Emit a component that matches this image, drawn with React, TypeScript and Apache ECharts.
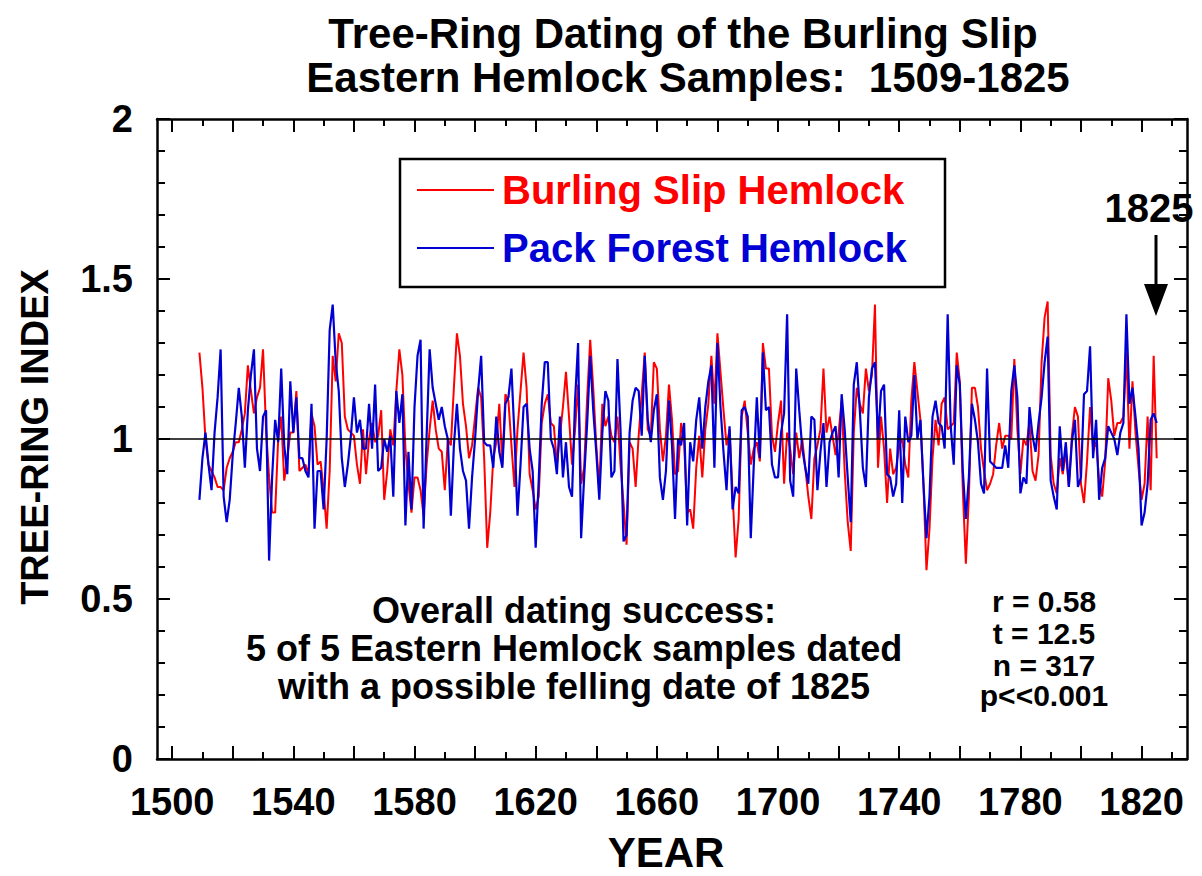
import React, { useEffect, useRef } from "react";
import * as echarts from "echarts";

const startYear = 1509;

const burlingSlip = [
  1.27,1.16,1.00,0.92,0.90,0.88,0.85,0.85,0.84,0.91,
  0.94,0.96,0.99,0.99,1.03,1.08,1.23,1.15,1.08,1.13,
  1.16,1.28,1.03,0.88,0.77,0.77,1.00,1.07,0.87,0.94,
  1.02,1.02,1.15,0.90,0.91,0.92,0.89,1.08,1.04,0.92,
  0.93,0.84,0.72,0.90,1.26,1.18,1.33,1.30,1.07,1.03,
  1.02,1.01,0.92,0.86,1.03,0.89,1.00,1.05,0.99,1.01,
  1.09,0.81,0.90,1.03,0.98,1.15,1.28,1.20,0.97,0.86,
  0.77,0.88,0.88,0.84,0.76,0.92,1.03,1.12,1.03,0.97,
  0.96,0.84,1.00,0.98,1.16,1.33,1.26,1.11,1.04,0.94,
  0.98,1.07,1.16,1.13,0.94,0.66,0.77,0.94,0.99,1.11,
  0.92,1.14,1.12,0.98,0.85,1.03,1.15,1.27,1.16,0.89,
  0.84,0.78,0.82,1.05,1.11,1.14,1.05,1.04,0.92,1.01,
  1.10,1.21,1.07,0.92,1.03,1.17,0.86,0.91,1.13,1.31,
  1.16,0.98,0.84,1.11,1.04,1.07,1.01,0.99,1.07,0.92,
  0.80,0.67,0.99,0.97,0.85,1.01,1.14,1.27,1.03,1.01,
  1.24,1.22,1.03,0.93,1.01,1.17,1.06,0.89,0.90,1.05,
  0.99,0.77,0.78,0.72,0.91,1.01,0.88,1.03,1.11,1.26,
  1.11,1.33,1.21,1.09,0.98,1.03,0.83,0.63,0.75,1.07,
  1.12,1.02,0.92,0.97,0.99,0.93,1.30,1.22,1.22,1.01,
  0.96,1.05,1.12,0.86,1.02,0.97,0.89,1.02,0.94,1.00,
  0.91,0.82,0.75,0.94,0.98,1.03,1.22,1.02,1.07,1.01,
  0.95,1.02,1.12,0.90,0.74,0.65,1.02,1.16,1.11,1.08,
  1.22,1.15,1.20,1.42,0.91,1.07,0.97,0.80,0.97,0.89,
  0.91,0.98,1.00,0.92,0.88,1.12,1.24,1.15,1.06,0.86,
  0.59,0.72,0.94,1.06,0.98,1.11,1.13,1.03,1.04,1.05,
  1.27,1.18,0.84,0.61,0.82,1.16,1.16,1.10,0.97,0.90,
  0.84,0.86,0.89,0.98,1.05,0.97,1.01,1.01,1.00,1.25,
  1.03,0.89,1.00,0.98,1.05,0.90,0.87,0.95,1.24,1.38,
  1.43,0.95,0.86,0.83,0.94,0.89,0.96,0.85,1.01,1.10,
  1.07,0.86,0.80,0.93,1.10,0.97,0.99,0.87,0.82,0.93,
  1.19,1.12,1.01,1.05,1.05,1.07,1.27,0.97,1.18,1.02,
  0.91,0.81,0.86,1.07,0.84,1.26,0.94,
];

const packForest = [
  0.81,0.94,1.02,0.92,0.84,1.02,1.13,1.28,0.82,0.74,
  0.81,0.95,1.05,1.16,1.07,0.91,1.09,1.20,1.28,0.97,
  0.90,1.07,1.09,0.62,0.88,1.06,0.99,1.22,0.98,0.89,
  1.18,1.02,1.13,0.94,0.94,0.90,0.88,1.11,0.72,0.90,
  0.90,0.78,1.00,1.34,1.42,1.24,1.15,0.94,0.85,0.92,
  1.01,1.13,1.02,1.06,0.97,0.97,1.11,0.97,1.17,0.90,
  0.91,1.00,0.96,1.01,0.82,1.15,1.05,1.14,0.73,0.96,
  0.78,1.10,1.26,1.31,0.72,1.01,1.28,1.16,1.11,1.06,
  1.10,1.04,1.00,0.76,0.98,1.11,0.97,0.90,0.87,0.72,
  0.88,1.00,1.15,1.26,0.99,0.98,0.98,0.91,1.07,0.96,
  0.91,1.11,1.13,1.22,1.01,0.76,0.92,1.10,1.11,0.97,
  0.90,0.66,0.87,1.11,1.24,1.24,1.00,0.97,0.89,1.07,
  0.88,0.99,0.85,0.82,1.12,1.30,0.69,0.88,1.05,1.26,
  1.09,0.96,0.81,1.02,1.15,1.12,0.88,0.90,1.25,1.03,
  0.68,0.70,1.02,1.12,1.16,1.15,1.01,1.26,1.06,0.99,
  1.09,1.14,0.88,0.81,0.90,1.12,0.98,0.75,1.00,0.98,
  1.05,0.73,0.99,0.93,1.06,1.13,0.97,1.10,1.18,1.23,
  0.91,1.30,1.10,0.96,0.84,1.04,0.78,0.85,0.83,1.09,
  1.10,1.07,0.69,0.92,1.13,0.94,1.27,1.09,1.10,0.92,
  0.88,0.88,1.02,1.08,1.39,0.87,0.82,1.22,1.09,0.97,
  0.91,0.86,1.07,1.06,0.84,0.96,1.05,0.85,0.99,1.02,
  1.04,0.88,1.14,1.03,0.88,0.74,1.17,1.24,1.09,0.91,
  0.85,1.13,1.22,1.24,1.00,1.15,1.17,0.89,0.88,0.82,
  0.86,1.09,0.80,1.07,0.99,1.01,1.20,1.00,1.06,0.86,
  0.69,0.82,1.07,1.12,1.05,1.04,0.97,1.39,1.04,0.92,
  1.23,1.17,0.90,0.75,0.88,1.11,1.06,0.99,0.86,0.83,
  1.22,0.93,0.92,0.91,0.91,0.91,0.98,0.91,1.15,1.23,
  1.13,0.83,0.88,0.86,1.10,1.01,0.96,1.05,1.13,1.24,
  1.32,0.87,0.82,0.78,1.04,0.90,0.99,0.85,0.99,1.06,
  0.85,0.88,1.14,1.15,1.29,0.94,1.06,0.81,0.91,0.94,
  1.04,1.02,1.00,0.95,1.02,1.05,1.39,1.11,1.16,1.07,
  0.97,0.73,0.77,0.86,1.06,1.08,1.05,
];

const xLabelValues = [1500, 1540, 1580, 1620, 1660, 1700, 1740, 1780, 1820];
const xMajorTicks = [1500, 1520, 1540, 1560, 1580, 1600, 1620, 1640, 1660, 1680, 1700, 1720, 1740, 1760, 1780, 1800, 1820];
const xMinorTicks = [1510, 1530, 1550, 1570, 1590, 1610, 1630, 1650, 1670, 1690, 1710, 1730, 1750, 1770, 1790, 1810, 1830];

const titleLines = ["Tree-Ring Dating of the Burling Slip", "Eastern Hemlock Samples:\u00a0 1509-1825"];
const noteLines = ["Overall dating success:", "5 of 5 Eastern Hemlock samples dated", "with a possible felling date of 1825"];
const statLines = ["r = 0.58", "t = 12.5", "n = 317", "p<<0.001"];
const seriesNames = ["Burling Slip Hemlock", "Pack Forest Hemlock"];

const FONT = '"Liberation Sans", Arial, Helvetica, sans-serif';
const RED = "#ff0000";
const BLUE = "#0000d4";

export default function App() {
  const ref = useRef<HTMLDivElement>(null);

  useEffect(() => {
    if (!ref.current) return;
    const chart = echarts.init(ref.current, null, { renderer: "svg" });

    const xCommon = { type: "value", min: 1495, max: 1835, splitLine: { show: false } };
    const tickLine = { color: "#000", width: 2 };

    const txt = (text: string, x: number, y: number, size: number, color = "#000", align = "center", extra: any = {}) => ({
      type: "text",
      x,
      y,
      ...extra,
      style: { text, fill: color, fontSize: size, fontWeight: "bold", fontFamily: FONT, align, verticalAlign: "middle" },
      z: 100,
    });

    const option: any = {
      animation: false,
      backgroundColor: "#fff",
      grid: { left: 157, top: 119, width: 1030, height: 640 },
      xAxis: [
        {
          ...xCommon,
          position: "bottom",
          axisLine: { show: true, onZero: false, lineStyle: { color: "#000", width: 2.5 } },
          axisTick: { show: true, inside: true, length: 13, lineStyle: tickLine, customValues: xMajorTicks },
          axisLabel: {
            show: true,
            customValues: xLabelValues,
            fontSize: 38,
            fontWeight: "bold",
            fontFamily: FONT,
            color: "#000",
            margin: 24,
            formatter: (v: number) => String(v),
          },
        },
        {
          ...xCommon,
          position: "bottom",
          axisLine: { show: false, onZero: false },
          axisTick: { show: true, inside: true, length: 7, lineStyle: tickLine, customValues: xMinorTicks },
          axisLabel: { show: false },
        },
        {
          ...xCommon,
          position: "top",
          axisLine: { show: true, onZero: false, lineStyle: { color: "#000", width: 2.5 } },
          axisTick: { show: true, inside: true, length: 13, lineStyle: tickLine, customValues: xMajorTicks },
          axisLabel: { show: false },
        },
        {
          ...xCommon,
          position: "top",
          axisLine: { show: false, onZero: false },
          axisTick: { show: true, inside: true, length: 7, lineStyle: tickLine, customValues: xMinorTicks },
          axisLabel: { show: false },
        },
      ],
      yAxis: [
        {
          type: "value",
          position: "left",
          min: 0,
          max: 2,
          interval: 0.5,
          splitLine: { show: false },
          axisLine: { show: true, onZero: false, lineStyle: { color: "#000", width: 2.5 } },
          axisTick: { show: true, inside: true, length: 13, lineStyle: tickLine },
          minorTick: { show: true, splitNumber: 5, length: 8, lineStyle: tickLine },
          axisLabel: { fontSize: 38, fontWeight: "bold", fontFamily: FONT, color: "#000", margin: 24, formatter: (v: number) => String(v) },
        },
        {
          type: "value",
          position: "right",
          min: 0,
          max: 2,
          interval: 0.5,
          splitLine: { show: false },
          axisLine: { show: true, onZero: false, lineStyle: { color: "#000", width: 2.5 } },
          axisTick: { show: true, inside: true, length: 13, lineStyle: tickLine },
          minorTick: { show: true, splitNumber: 5, length: 8, lineStyle: tickLine },
          axisLabel: { show: false },
        },
      ],
      series: [
        {
          name: seriesNames[0],
          type: "line",
          xAxisIndex: 0,
          yAxisIndex: 0,
          showSymbol: false,
          symbol: "none",
          lineStyle: { color: RED, width: 2 },
          data: burlingSlip.map((v, i) => [startYear + i, v]),
          z: 2,
        },
        {
          name: seriesNames[1],
          type: "line",
          xAxisIndex: 0,
          yAxisIndex: 0,
          showSymbol: false,
          symbol: "none",
          lineStyle: { color: BLUE, width: 2.2 },
          data: packForest.map((v, i) => [startYear + i, v]),
          z: 3,
          markLine: {
            silent: true,
            symbol: "none",
            label: { show: false },
            lineStyle: { color: "#000", width: 1.5, type: "solid" },
            data: [{ yAxis: 1 }],
          },
        },
      ],
      graphic: [
        txt(titleLines[0], 683, 33, 42),
        txt(titleLines[1], 688, 77, 42),
        txt("YEAR", 666, 852, 42),
        txt("TREE-RING INDEX", 35, 437, 38, "#000", "center", { rotation: Math.PI / 2 }),
        {
          type: "rect",
          shape: { x: 400, y: 159, width: 545, height: 128 },
          style: { fill: "#fff", stroke: "#000", lineWidth: 2.5 },
          z: 90,
        },
        { type: "line", shape: { x1: 417, y1: 190, x2: 494, y2: 190 }, style: { stroke: RED, lineWidth: 2 }, z: 100 },
        txt(seriesNames[0], 502, 190, 40, RED, "left"),
        { type: "line", shape: { x1: 417, y1: 248, x2: 494, y2: 248 }, style: { stroke: BLUE, lineWidth: 2 }, z: 100 },
        txt(seriesNames[1], 502, 248, 40, BLUE, "left"),
        txt("1825", 1149, 208, 40),
        { type: "line", shape: { x1: 1156, y1: 235, x2: 1156, y2: 292 }, style: { stroke: "#000", lineWidth: 3 }, z: 100 },
        {
          type: "polygon",
          shape: { points: [[1144, 284], [1168, 284], [1156, 316]] },
          style: { fill: "#000" },
          z: 100,
        },
        txt(noteLines[0], 574, 610, 36),
        txt(noteLines[1], 574, 648, 36),
        txt(noteLines[2], 574, 686, 36),
        txt(statLines[0], 1044, 601, 30),
        txt(statLines[1], 1044, 633, 30),
        txt(statLines[2], 1044, 665, 30),
        txt(statLines[3], 1044, 695, 30),
      ],
    };

    chart.setOption(option);
    return () => chart.dispose();
  }, []);

  return (
    <div
      ref={ref}
      style={{ position: "fixed", left: 0, top: 0, width: 1202, height: 876, background: "#fff" }}
    />
  );
}
